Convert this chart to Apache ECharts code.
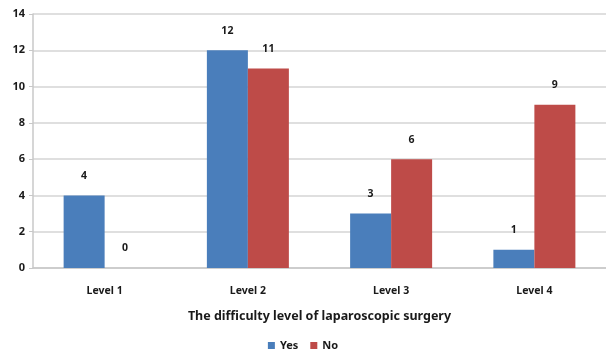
<!DOCTYPE html>
<html>
<head>
<meta charset="utf-8">
<script src="https://cdn.jsdelivr.net/npm/echarts@6/dist/echarts.min.js"></script>
<style>
  html, body { margin: 0; padding: 0; background: #fff; }
  #chart { width: 606px; height: 352px; }
</style>
</head>
<body>
<div id="chart"></div>
<script>
// Survey answers per difficulty level
const categories = ['Level 1', 'Level 2', 'Level 3', 'Level 4'];
const yesValues = [4, 12, 3, 1];
const noValues = [0, 11, 6, 9];
const seriesNames = ['Yes', 'No'];
const yTicks = { min: 0, max: 14, interval: 2 };
const axisTitle = 'The difficulty level of laparoscopic surgery';

const FONT = '"Noto Sans", "Open Sans", sans-serif';
const TEXT = '#1a1a1a';
const chart = echarts.init(document.getElementById('chart'), null, { renderer: 'canvas' });

const labelStyle = {
  show: true,
  position: 'top',
  distance: 14,
  color: TEXT,
  fontFamily: FONT,
  fontWeight: 'bold',
  fontSize: 10.5
};

chart.setOption({
  animation: false,
  backgroundColor: '#ffffff',
  grid: { left: 33, right: -3, top: 14, bottom: 84, containLabel: false },
  legend: {
    data: seriesNames,
    bottom: -4,
    left: 'center',
    itemWidth: 7,
    itemHeight: 7,
    itemGap: 12,
    icon: 'rect',
    textStyle: { fontFamily: FONT, fontWeight: 'bold', fontSize: 11, color: TEXT }
  },
  xAxis: {
    type: 'category',
    data: categories,
    name: axisTitle,
    nameLocation: 'middle',
    nameGap: 42,
    nameTextStyle: { fontFamily: FONT, fontWeight: 'bold', fontSize: 12.5, color: TEXT },
    axisLine: { lineStyle: { color: '#c8c8c8', width: 1.5 } },
    axisTick: { show: false },
    axisLabel: { margin: 18, fontFamily: FONT, fontWeight: 'bold', fontSize: 10.5, color: TEXT }
  },
  yAxis: {
    type: 'value',
    min: yTicks.min,
    max: yTicks.max,
    interval: yTicks.interval,
    axisLine: { show: true, lineStyle: { color: '#c8c8c8', width: 1.5 } },
    axisTick: { show: true, length: 4, lineStyle: { color: '#c8c8c8' } },
    splitLine: { lineStyle: { color: '#d4d4d4', width: 1.5 } },
    axisLabel: { margin: 8, fontFamily: FONT, fontWeight: 'bold', fontSize: 11, color: TEXT }
  },
  series: [
    {
      name: seriesNames[0],
      type: 'bar',
      data: yesValues,
      barWidth: 41,
      barGap: '0%',
      itemStyle: { color: '#4a7ebb' },
      label: labelStyle
    },
    {
      name: seriesNames[1],
      type: 'bar',
      data: noValues,
      barWidth: 41,
      barGap: '0%',
      itemStyle: { color: '#be4b48' },
      label: labelStyle
    }
  ]
});
</script>
</body>
</html>
